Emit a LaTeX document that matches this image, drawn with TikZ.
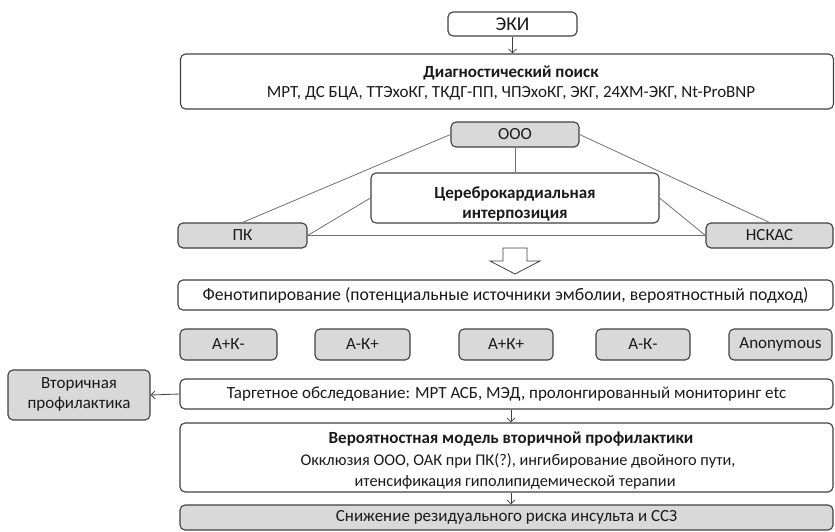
\documentclass[tikz,border=0pt]{standalone}
\usepackage{fontspec}
\setmainfont{Carlito}
\usetikzlibrary{arrows.meta}
\definecolor{boxline}{HTML}{404040}
\definecolor{conline}{HTML}{707070}
\definecolor{greyfill}{HTML}{D9D9D9}
\definecolor{txt}{HTML}{1A1A1A}
\newcommand{\fs}[1]{\fontsize{#1}{#1}\selectfont}
\tikzset{
  box/.style={draw=boxline, line width=1.1pt, rounded corners=5pt, fill=white, inner sep=0pt, text=txt, align=center, font=\fs{17}},
  gbox/.style={box, fill=greyfill},
  lbl/.style={text=txt, inner sep=0pt, font=\fs{17}},
  conn/.style={draw=conline, line width=0.8pt},
  arr/.style={draw=boxline, line width=0.8pt, -{Straight Barb[length=4pt,width=8pt]}},
}
\begin{document}
\begin{tikzpicture}[x=1pt,y=-1pt]
\useasboundingbox (0,0) rectangle (835,531);
% top
\node[box, minimum width=129pt, minimum height=24pt, font=\fs{19.5}] (eki) at (512.5,24) {ЭКИ};
\node[box, minimum width=653pt, minimum height=55pt] (diag) at (507,81.5) {};
\node[lbl, font=\fs{17}\bfseries] (diagt) at (511,73) {Диагностический поиск};
\node[lbl] (diagl) at (511,93) {МРТ, ДС БЦА, ТТЭхоКГ, ТКДГ-ПП, ЧПЭхоКГ, ЭКГ, 24ХМ-ЭКГ, Nt-ProBNP};
\draw[arr] (eki.south) -- (eki.south |- diag.north);
% triangle
\node[gbox, minimum width=128pt, minimum height=25pt] (ooo) at (515,134.5) {ООО};
\node[box, minimum width=288pt, minimum height=50pt, font=\fs{17}\bfseries, text depth=0pt] (cer) at (515,198) {\begin{tabular}{@{}c@{}}Цереброкардиальная\\[3pt]интерпозиция\end{tabular}};
\node[gbox, minimum width=129pt, minimum height=25pt] (pk) at (242.5,235.5) {ПК};
\node[gbox, minimum width=127pt, minimum height=25pt] (nsk) at (769.5,235.5) {НСКАС};
\draw[conn] (pk.north) -- (ooo.west);
\draw[conn] (ooo.east) -- (nsk.north);
\draw[conn] (ooo.south) -- (cer.north);
\draw[conn] (pk.east) -- (cer.west);
\draw[conn] (cer.east) -- (nsk.west);
\draw[conn] (pk.east) -- (nsk.west);
% block arrow
\draw[draw=boxline, line width=0.8pt, fill=white, line join=miter]
  (503,248) -- (527,248) -- (527,261) -- (540,261) -- (515,274) -- (490,261) -- (503,261) -- cycle;
% phenotyping
\node[box, minimum width=655pt, minimum height=30pt, font=\fs{17.7}] (phen) at (505.5,295) {Фенотипирование (потенциальные источники эмболии, вероятностный подход)};
\node[gbox, minimum width=97pt, minimum height=31pt] (a1) at (228.5,344.5) {А+К-};
\node[gbox, minimum width=95pt, minimum height=31pt] (a2) at (362.5,344.5) {А-К+};
\node[gbox, minimum width=94pt, minimum height=31pt] (a3) at (506,344.5) {А+К+};
\node[gbox, minimum width=94pt, minimum height=31pt] (a4) at (643,344.5) {А-К-};
\node[gbox, minimum width=103pt, minimum height=31pt] (a5) at (780.5,344.5) {Anonymous};
% targeted
\node[gbox, minimum width=142pt, minimum height=50pt] (vtor) at (79,395) {\begin{tabular}{@{}c@{}}Вторичная\\[3pt]профилактика\end{tabular}};
\node[box, minimum width=653pt, minimum height=30pt] (targ) at (506.5,394) {Таргетное обследование: МРТ АСБ, МЭД, пролонгированный мониторинг etc};
\draw[arr] (targ.west) -- (vtor.east);
\node[box, minimum width=653pt, minimum height=69pt] (prob) at (506.5,457.5) {};
\node[lbl, font=\fs{17}\bfseries] (probt) at (511,439) {Вероятностная модель вторичной профилактики};
\node[lbl, font=\fs{16.3}] (prob1) at (518,461) {Окклюзия ООО, ОАК при ПК(?), ингибирование двойного пути,};
\node[lbl, font=\fs{16.3}] (prob2) at (515,482) {итенсификация гиполипидемической терапии};
\node[gbox, minimum width=653pt, minimum height=25pt] (fin) at (506.5,517.5) {Снижение резидуального риска инсульта и ССЗ};
\coordinate (c1) at (511,0);
\draw[arr] (c1 |- targ.south) -- (c1 |- prob.north);
\draw[arr] (c1 |- prob.south) -- (c1 |- fin.north);
\end{tikzpicture}
\end{document}
